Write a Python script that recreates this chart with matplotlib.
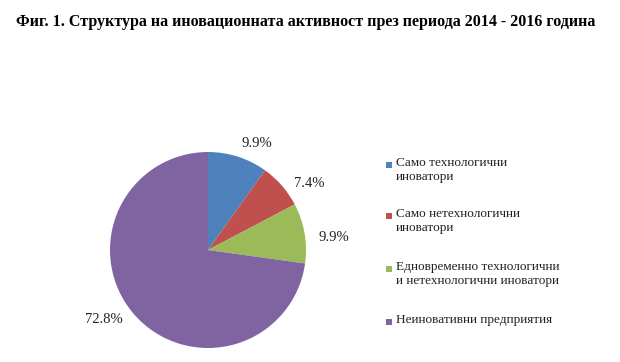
import matplotlib.pyplot as plt
from matplotlib.patches import Rectangle

# Data
categories = ['Само технологични\nиноватори',
              'Само нетехнологични\nиноватори',
              'Едновременно технологични\nи нетехнологични иноватори',
              'Неиновативни предприятия']
values = [9.9, 7.4, 9.9, 72.8]
colors = ['#4F81BD', '#C0504D', '#9BBB59', '#8064A2']
title = 'Фиг. 1. Структура на иновационната активност през периода 2014 - 2016 година'

plt.rcParams['font.family'] = ['Liberation Serif', 'DejaVu Serif']

fig = plt.figure(figsize=(6.2, 3.62), dpi=100)
W, H = 620, 362

# pie axes: center (208, 250) px, radius 98 px
r = 98
ax = fig.add_axes([(208 - r) / W, 1 - (250 + r) / H, 2 * r / W, 2 * r / H])
wedges, texts, autotexts = ax.pie(values, colors=colors, startangle=90, counterclock=False,
                                  autopct='%.1f%%', pctdistance=1.24,
                                  wedgeprops=dict(edgecolor='none'),
                                  textprops=dict(fontsize=10.5, color='#222222'))
ax.set_xlim(-1, 1)
ax.set_ylim(-1, 1)

# Excel "best fit" label spots (in pie radius units)
label_pos = [(0.50, 1.09), (1.03, 0.68), (1.28, 0.13), (-1.06, -0.71)]
for t, p in zip(autotexts, label_pos):
    t.set_position(p)

fig.text(16 / W, 1 - 22 / H, title, fontsize=11.5, fontweight='bold', va='center', ha='left')

# legend drawn manually (markers aligned to first line, as in Excel)
legend_y = [165, 216, 269, 322]
for lab, col, y in zip(categories, colors, legend_y):
    fig.text(396 / W, 1 - (y - 8) / H, lab, fontsize=9.5, va='top', ha='left',
             linespacing=1.18, color='#222222')
    fig.add_artist(Rectangle((386 / W, 1 - (y + 3) / H), 6 / W, 6 / H,
                             transform=fig.transFigure, facecolor=col, edgecolor='none'))

fig.savefig('out.png', dpi=100)
